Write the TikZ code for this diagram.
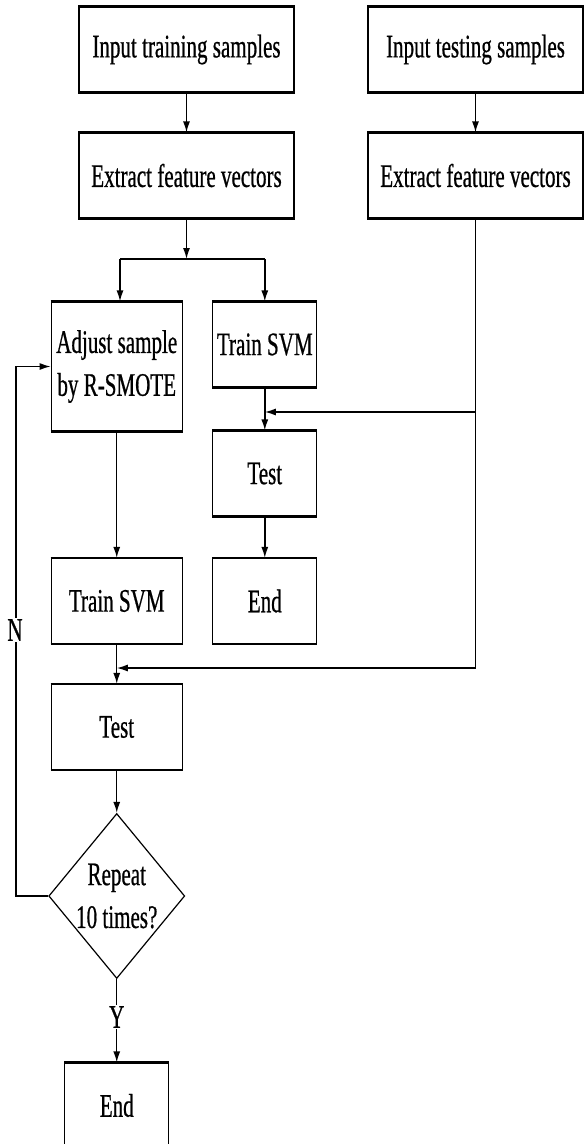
\documentclass[tikz,border=0pt]{standalone}
\usepackage{fontspec}
\setmainfont[FakeStretch=0.64,FakeBold=0.6]{Liberation Serif}
\usetikzlibrary{shapes.geometric,arrows.meta}
\begin{document}
\begin{tikzpicture}[x=1bp,y=-1bp,
  txt/.style={font=\fontsize{33}{43}\selectfont},
  box/.style={draw, line width=1.2bp, inner sep=0pt, align=center, txt},
  wbox/.style={box, minimum width=215bp, minimum height=85bp},
  mbox/.style={box, minimum width=131bp, minimum height=85bp},
  sbox/.style={box, minimum width=104bp, minimum height=85bp},
  dec/.style={draw, line width=1.2bp, diamond, aspect=0.82, inner sep=0pt, align=center, txt, minimum width=136bp, minimum height=165bp},
  edge/.style={line width=1.4bp},
  arr/.style={edge, -{Latex[length=11bp,width=7bp]}},
  lbl/.style={txt, fill=white, inner sep=1bp}
]
\useasboundingbox (0,0) rectangle (584,1144);

% nodes
\node[wbox] (in1) at (186.5,49.5) {Input training samples};
\node[wbox] (ex1) at (186.5,175.5) {Extract feature vectors};
\node[wbox] (in2) at (475.5,49.5) {Input testing samples};
\node[wbox] (ex2) at (475.5,175.5) {Extract feature vectors};
\node[mbox, minimum height=129bp] (adj) at (116.75,366.5) {Adjust sample\\by R-SMOTE};
\node[sbox] (tr1) at (264.8,344.5) {Train SVM};
\node[sbox] (te1) at (264.8,473.5) {Test};
\node[sbox] (en1) at (264.8,601) {End};
\node[mbox] (tr2) at (116.75,601) {Train SVM};
\node[mbox] (te2) at (116.75,727) {Test};
\node[dec] (dia) at (116.75,896) {Repeat\\10 times?};
\node[sbox] (en2) at (116.75,1105.5) {End};

% thicker top and bottom edges
\foreach \n in {in1,ex1,in2,ex2,adj,tr1,te1,en1,tr2,te2,en2}{
  \draw[line width=2.6bp] (\n.north west) -- (\n.north east) (\n.south west) -- (\n.south east);
}

% coordinates
\coordinate (split) at (186.5,259);
\coordinate (sl) at (120,259);
\coordinate (sr) at (264.8,259);
\coordinate (j1) at (475.5,412);
\coordinate (j1e) at (264.8,412);
\coordinate (j2) at (475.5,668);
\coordinate (j2e) at (116.75,668);
\coordinate (lb) at (16,896);
\coordinate (lt) at (16,366.5);

% connectors
\draw[arr] (in1) -- (ex1);
\draw[arr] (in2) -- (ex2);
\draw[arr] (ex1) -- (split);
\draw[edge] (sl) -- (sr);
\draw[arr] (sl) -- (sl |- adj.north);
\draw[arr] (sr) -- (tr1);
\draw[edge] (ex2) -- (j2);
\draw[arr] (j1) -- (j1e);
\draw[arr] (j2) -- (j2e);
\draw[arr] (tr1) -- (te1);
\draw[arr] (te1) -- (en1);
\draw[arr] (adj) -- (tr2);
\draw[arr] (tr2) -- (te2);
\draw[arr] (te2) -- (dia);
\draw[arr] (dia.west) -- (lb) -- (lt) -- (adj.west);
\node[lbl] (nl) at (15,630) {N};
\draw[arr] (dia.south) -- (en2);
\node[lbl] (yl) at (116.75,1017) {Y};
\end{tikzpicture}
\end{document}
